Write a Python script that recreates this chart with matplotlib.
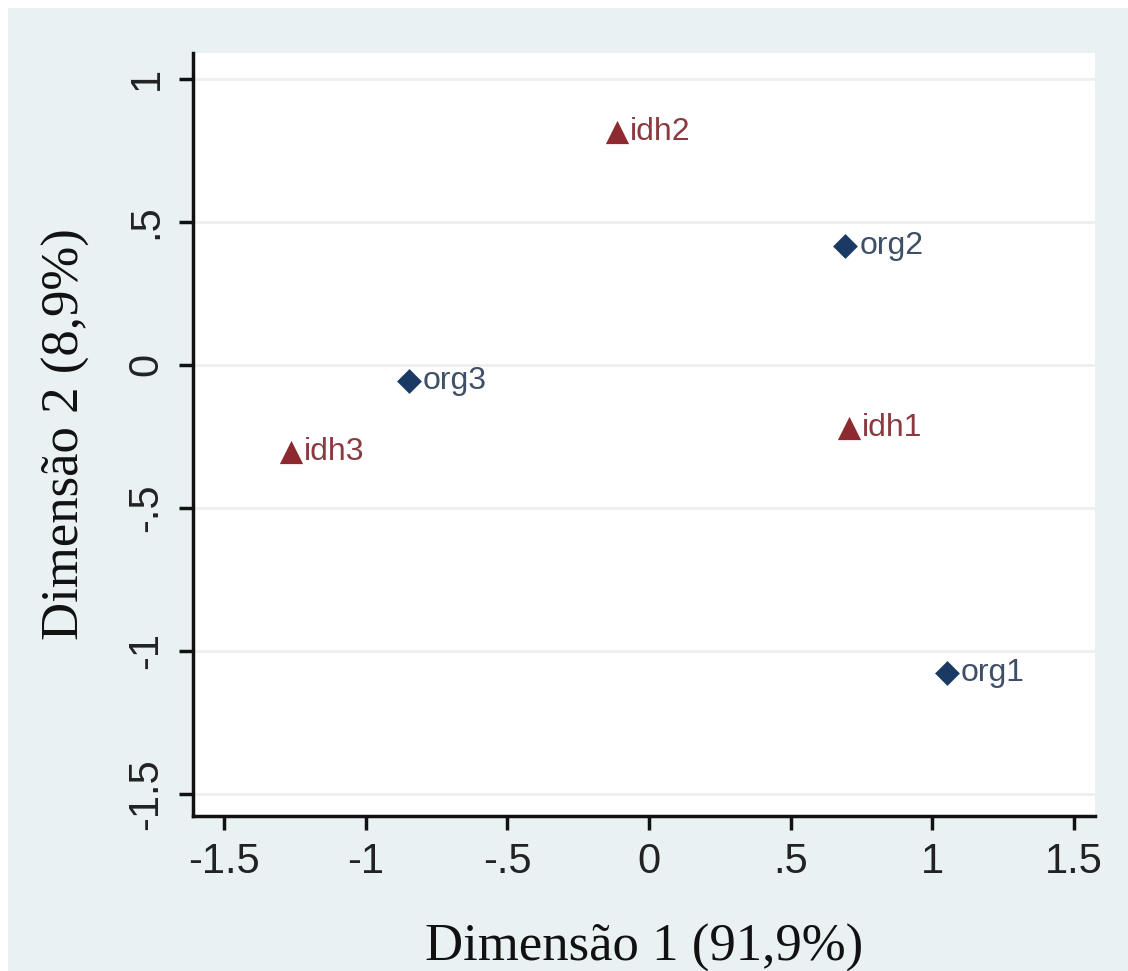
import matplotlib
matplotlib.use("Agg")
import matplotlib.pyplot as plt
from matplotlib.patches import Rectangle

labels_org = ["org1", "org2", "org3"]
org_x = [1.053, 0.694, -0.849]
org_y = [-1.077, 0.416, -0.056]

labels_idh = ["idh1", "idh2", "idh3"]
idh_x = [0.708, -0.113, -1.264]
idh_y = [-0.22, 0.815, -0.304]

xticks = [-1.5, -1, -0.5, 0, 0.5, 1, 1.5]
xticklabels = ["-1.5", "-1", "-.5", "0", ".5", "1", "1.5"]
yticks = [-1.5, -1, -0.5, 0, 0.5, 1]
yticklabels = ["-1.5", "-1", "-.5", "0", ".5", "1"]

W, H = 1128, 971
fig = plt.figure(figsize=(W / 100, H / 100), dpi=100, facecolor="white")
bg = "#eaf1f3"
fig.patches.append(Rectangle((8 / W, 0), 1 - 8 / W, 1 - 8 / H, transform=fig.transFigure,
                             facecolor=bg, edgecolor="none", zorder=-10))

ax = fig.add_axes([193 / W, 1 - 816 / H, (1095 - 193) / W, (816 - 53) / H])
ax.set_facecolor("white")
ax.set_xlim(-1.61, 1.575)
ax.set_ylim(-1.577, 1.09)

for y in yticks:
    ax.axhline(y, color="#eef0f0", lw=2, zorder=0)

navy = "#1b3a63"
red = "#8c2a30"
ax.scatter(org_x, org_y, marker="D", s=160, color=navy, zorder=3, linewidths=0)
ax.scatter(idh_x, idh_y, marker="^", s=280, color=red, zorder=3, linewidths=0)

for lab, x, y in zip(labels_org, org_x, org_y):
    ax.annotate(lab, (x, y), xytext=(10, 0), textcoords="offset points", va="center",
                ha="left", fontsize=23, color="#3e5068", family="Liberation Sans")
for lab, x, y in zip(labels_idh, idh_x, idh_y):
    ax.annotate(lab, (x, y), xytext=(9, 0), textcoords="offset points", va="center",
                ha="left", fontsize=23, color="#8a3a40", family="Liberation Sans")

for s in ["top", "right"]:
    ax.spines[s].set_visible(False)
for s in ["left", "bottom"]:
    ax.spines[s].set_linewidth(2.5)
    ax.spines[s].set_color("#111111")

ax.set_xticks(xticks)
ax.set_xticklabels(xticklabels, fontsize=30, family="Liberation Sans", color="#222222")
ax.set_yticks(yticks)
ax.set_yticklabels(yticklabels, fontsize=30, family="Liberation Sans", color="#222222",
                   rotation=90, va="center")
ax.tick_params(axis="both", direction="out", length=10, width=2.5, color="#111111", pad=9)

ax.set_xlabel("Dimensão 1 (91,9%)", fontsize=38, family="Liberation Serif", color="#111111",
              labelpad=30)
ax.set_ylabel("Dimensão 2 (8,9%)", fontsize=38, family="Liberation Serif", color="#111111",
              labelpad=26)

fig.savefig("out.png", dpi=100, facecolor=fig.get_facecolor())
